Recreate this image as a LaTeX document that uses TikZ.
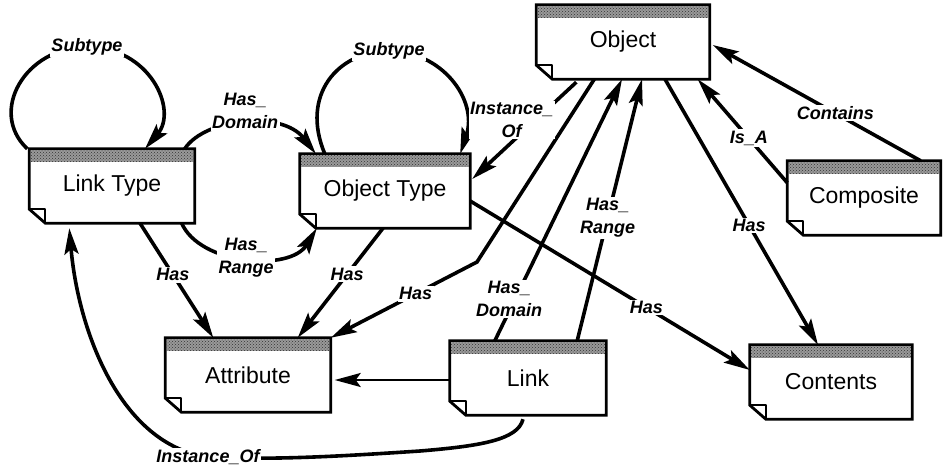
\documentclass[tikz,border=0pt]{standalone}
\usepackage{fontspec}
\setmainfont{Liberation Sans}
\usepackage{tikz}
\usetikzlibrary{arrows.meta}
\usetikzlibrary{patterns}
\usetikzlibrary{calc}
\usetikzlibrary{backgrounds}

\tikzset{
  doc/.style={minimum height=74pt, inner sep=0pt, font=\fontsize{23}{26}\selectfont},
  edge/.style={line width=3.6pt, -{Stealth[length=26pt,width=14pt,inset=5pt]}},
  lbl/.style={fill=white, inner sep=1.5pt, align=center,
    font=\fontsize{18}{23}\selectfont\bfseries\itshape},
}

\begin{document}
\begin{tikzpicture}[x=1pt,y=-1pt]
\useasboundingbox (0,0) rectangle (951,466);

% the boxes
\node[doc, minimum width=165pt] (ltype) at (112,186) {Link Type};
\node[doc, minimum width=170pt] (otype) at (385,191) {Object Type};
\node[doc, minimum width=173pt] (obj) at (623,42) {Object};
\node[doc, minimum width=153pt] (comp) at (864,198) {Composite};
\node[doc, minimum width=165pt] (attr) at (248,375) {Attribute};
\node[doc, minimum width=156pt] (link) at (528,378) {Link};
\node[doc, minimum width=162pt] (cont) at (831,382) {Contents};

\begin{scope}[on background layer]
\foreach \n in {ltype,otype,obj,comp,attr,link,cont} {
  % shadow
  \fill[shift={(5,5)}] (\n.north west) -- (\n.north east) -- (\n.south east)
    -- ($(\n.south west)+(16,0)$) -- ($(\n.south west)+(0,-14)$) -- cycle;
  % page with folded corner
  \filldraw[fill=white, line width=2.8pt] (\n.north west) -- (\n.north east) -- (\n.south east)
    -- ($(\n.south west)+(16,0)$) -- ($(\n.south west)+(0,-14)$) -- cycle;
  \fill[black!40] ($(\n.north west)+(1.4,1.4)$) rectangle ($(\n.north east)+(-1.4,13)$);
  \fill[pattern=crosshatch dots, pattern color=black!80] ($(\n.north west)+(1.4,1.4)$) rectangle ($(\n.north east)+(-1.4,13)$);
  \draw[line width=1.8pt, line join=round] ($(\n.south west)+(0,-14)$) -- ($(\n.south west)+(16,-14)$)
    -- ($(\n.south west)+(16,0)$);
}
\end{scope}

% Subtype loops
\draw[edge] ($(ltype.north west)+(-2,0)$) .. controls (-12,112) and (25,47) .. (87,47)
  node[lbl] (sub1) {Subtype} .. controls (150,47) and (178,110) .. ($(ltype.north)+(33,0)$);
\draw[edge] ($(otype.north west)+(25,0)$) .. controls (300,95) and (338,51) .. (389,51)
  node[lbl] (sub2) {Subtype} .. controls (442,51) and (478,100) .. ($(otype.north east)+(-10,0)$);

% link type to object type
\draw[edge] ($(ltype.north east)+(-10,0)$) .. controls (205,118) and (282,110) ..
  ($(otype.north west)+(16,0)$) node[lbl, pos=.5, yshift=12pt] (dom1) {Has\_\\Domain};
\draw[edge] ($(ltype.south east)+(-13,0)$) .. controls (200,265) and (290,272) ..
  ($(otype.south west)+(17,0)$) node[lbl, pos=.5] (rng1) {Has\_\\Range};

% attributes
\draw[edge] ($(ltype.south)+(28,0)$) -- node[lbl, pos=.45] (has1) {Has} ($(attr.north west)+(48,0)$);
\draw[edge] ($(otype.south)+(-2,0)$) -- node[lbl, pos=.42] (has2) {Has} ($(attr.north east)+(-33,0)$);
\draw[edge] ($(obj.south west)+(58,0)$) -- (477,262) -- node[lbl, pos=.42] (has3) {Has} (attr.north east);
\draw[edge, line width=2.4pt] ($(link.west)+(0,2)$) -- ($(attr.east)+(4,5)$);

% object
\draw[edge] ($(obj.south west)+(40,3)$) -- node[lbl, pos=.42, xshift=-21pt, yshift=3pt] (inst1) {Instance\_\\Of}
  ($(otype.east)+(2,-12)$);
\draw[edge] ($(link.north west)+(45,0)$) -- node[lbl, pos=.16, xshift=-6pt] (dom2) {Has\_\\Domain} ($(obj.south)+(-1,0)$);
\draw[edge] ($(link.north east)+(-29,0)$) -- node[lbl, pos=.47] (rng2) {Has\_\\Range} ($(obj.south)+(19,0)$);
\draw[edge] ($(comp.north west)+(0,22)$) -- node[lbl, pos=.43] (isa) {Is\_A} ($(obj.south east)+(-12,0)$);
\draw[edge] ($(comp.north east)+(-20,0)$) -- node[lbl, pos=.41] (contains) {Contains} ($(obj.east)+(3,3)$);

% contents
\draw[edge] ($(otype.east)+(0,10)$) -- node[lbl, pos=.63] (has4) {Has} ($(cont.west)+(0,-12)$);
\draw[edge] ($(obj.south)+(42,0)$) -- node[lbl, pos=.55] (has5) {Has} ($(cont.north)+(-13,0)$);

% link is an instance of a link type
\draw[edge] ($(link.south)+(-5,4)$) .. controls (518,440) and (480,446) .. (420,451)
  .. controls (330,457) and (270,460) .. (208,457) node[lbl] (inst2) {Instance\_Of}
  .. controls (120,445) and (78,330) .. ($(ltype.south west)+(40,5)$);
\end{tikzpicture}
\end{document}
